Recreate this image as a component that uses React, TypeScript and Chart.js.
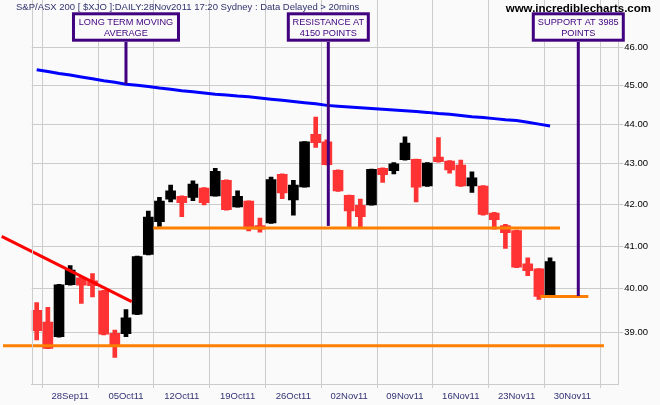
import React, { useEffect, useRef } from 'react';
import { Chart, registerables } from 'chart.js';

Chart.register(...registerables);

// ---- data ----
const dates = [
  '23Sep11', '26Sep11', '27Sep11', '28Sep11', '29Sep11', '30Sep11',
  '03Oct11', '04Oct11', '05Oct11', '06Oct11', '07Oct11',
  '10Oct11', '11Oct11', '12Oct11', '13Oct11', '14Oct11',
  '17Oct11', '18Oct11', '19Oct11', '20Oct11', '21Oct11',
  '24Oct11', '25Oct11', '26Oct11', '27Oct11', '28Oct11',
  '31Oct11', '01Nov11', '02Nov11', '03Nov11', '04Nov11',
  '07Nov11', '08Nov11', '09Nov11', '10Nov11', '11Nov11',
  '14Nov11', '15Nov11', '16Nov11', '17Nov11', '18Nov11',
  '21Nov11', '22Nov11', '23Nov11', '24Nov11', '25Nov11',
  '28Nov11',
];

const opens = [
  39.50, 39.23, 38.90, 40.09, 40.25, 40.18, 39.95, 38.98, 38.97, 39.41,
  40.80, 41.58, 42.13, 42.20, 42.17, 42.40, 42.21, 42.59, 41.94, 42.08,
  41.49, 41.55, 42.74, 42.11, 42.43, 43.74, 43.55, 42.84, 42.22, 41.98,
  41.99, 42.89, 42.83, 43.10, 43.11, 42.45, 43.17, 43.07, 42.97, 42.45,
  42.45, 41.79, 41.49, 41.37, 40.58, 40.46, 39.82,
];
const highs = [
  39.68, 39.57, 40.10, 40.54, 40.26, 40.35, 39.96, 39.05, 39.52, 40.76,
  41.84, 42.17, 42.47, 42.21, 42.58, 42.41, 42.89, 42.60, 42.33, 42.09,
  41.67, 42.67, 42.75, 42.59, 43.56, 44.18, 43.60, 42.85, 42.23, 42.13,
  42.87, 42.90, 43.03, 43.68, 43.12, 43.03, 43.66, 43.08, 43.09, 42.80,
  42.46, 41.81, 41.52, 41.38, 40.72, 40.47, 40.72,
];
const lows = [
  38.83, 38.63, 38.89, 40.08, 39.66, 39.81, 38.94, 38.44, 38.90, 39.40,
  40.79, 41.47, 42.06, 41.70, 42.09, 41.99, 42.20, 41.86, 41.93, 41.36,
  41.33, 41.54, 42.14, 41.74, 42.42, 43.41, 42.97, 42.32, 41.43, 41.45,
  41.98, 42.54, 42.75, 43.09, 42.06, 42.44, 43.04, 42.77, 42.44, 42.29,
  41.74, 41.40, 40.94, 40.49, 40.30, 39.75, 39.81,
];
const closes = [
  39.04, 38.64, 40.09, 40.43, 40.08, 40.07, 38.96, 38.72, 39.33, 40.75,
  41.69, 42.08, 42.33, 42.04, 42.50, 42.04, 42.81, 41.87, 42.20, 41.41,
  41.40, 42.61, 42.28, 42.47, 43.55, 43.53, 42.98, 42.33, 41.84, 41.70,
  42.86, 42.73, 43.00, 43.52, 42.42, 43.02, 43.05, 42.85, 42.45, 42.65,
  41.76, 41.63, 41.32, 40.50, 40.42, 39.82, 40.63,
];
const movingAverage = [
  45.41, 45.36, 45.31, 45.27, 45.22, 45.17, 45.12, 45.08, 45.03, 45.00,
  44.97, 44.93, 44.90, 44.86, 44.83, 44.80, 44.77, 44.75, 44.72, 44.70,
  44.67, 44.64, 44.61, 44.58, 44.55, 44.52, 44.48, 44.46, 44.44, 44.42,
  44.40, 44.38, 44.36, 44.34, 44.32, 44.30, 44.27, 44.25, 44.22, 44.19,
  44.17, 44.14, 44.11, 44.09, 44.05, 44.00, 43.95,
];

// trend / support / resistance lines (x in trading-day index, y in index/100)
const downTrend = [{ x: -3.14, y: 41.23 }, { x: 8.51, y: 39.70 }];
const lowSupport = [{ x: -3.02, y: 38.70 }, { x: 50.83, y: 38.70 }];
const resistance = [{ x: 10.45, y: 41.43 }, { x: 46.89, y: 41.43 }];
const support = [{ x: 45.11, y: 39.82 }, { x: 49.43, y: 39.82 }];

const xTickIndex = [3, 8, 13, 18, 23, 28, 33, 38, 43, 48];
const xTickLabels = [
  '28Sep11', '05Oct11', '12Oct11', '19Oct11', '26Oct11',
  '02Nov11', '09Nov11', '16Nov11', '23Nov11', '30Nov11',
];
const yTicks = [39, 40, 41, 42, 43, 44, 45, 46];

const noteLines = [
  ['LONG TERM MOVING', 'AVERAGE'],
  ['RESISTANCE AT', '4150 POINTS'],
  ['SUPPORT AT 3985', 'POINTS'],
];
const noteIndex = [8.0, 26.13, 48.53];
const noteTarget = [45.03, 41.48, 39.83];

const titleText = 'S&P/ASX 200 [ $XJO ]:DAILY:28Nov2011 17:20 Sydney : Data Delayed > 20mins';
const siteText = 'www.incrediblecharts.com';

// ---- styles ----
const RED = '#ff3333';
const BLACK = '#000000';
const ORANGE = '#ff8000';
const BLUE = '#0000ff';
const PURPLE = '#400080';
const GRID = '#cccccc';
const BG = '#fafafa';
const FONT = '"Liberation Sans", Arial, sans-serif';
const noteBoxWidth = [108, 83, 93];

const decorPlugin = {
  id: 'decor',
  beforeDraw(chart: any) {
    const ctx = chart.ctx;
    ctx.save();
    ctx.fillStyle = BG;
    ctx.fillRect(0, 0, chart.width, chart.height);
    ctx.restore();
  },
  afterDraw(chart: any) {
    const ctx = chart.ctx;
    const area = chart.chartArea;
    const xs = chart.scales.x;
    const ys = chart.scales.y;
    ctx.save();
    // left border
    ctx.strokeStyle = GRID;
    ctx.lineWidth = 1;
    ctx.beginPath();
    const lx = Math.round(area.left) + 0.5;
    ctx.moveTo(lx, area.top);
    ctx.lineTo(lx, area.bottom);
    ctx.stroke();

    // title
    ctx.font = `9.5px ${FONT}`;
    ctx.fillStyle = '#333370';
    ctx.textAlign = 'left';
    ctx.textBaseline = 'alphabetic';
    ctx.fillText(titleText, 16, 10);
    ctx.font = `bold 11.5px ${FONT}`;
    ctx.fillStyle = '#000000';
    ctx.textAlign = 'right';
    ctx.fillText(siteText, 651, 11.5);

    // notes
    const boxTop = 12.3;
    const boxBottom = 41.7;
    for (let i = 0; i < noteLines.length; i++) {
      const cx = xs.getPixelForValue(noteIndex[i]);
      const ty = ys.getPixelForValue(noteTarget[i]);
      ctx.strokeStyle = PURPLE;
      ctx.lineWidth = 3;
      ctx.beginPath();
      ctx.moveTo(cx, boxBottom);
      ctx.lineTo(cx, ty);
      ctx.stroke();
      const w = noteBoxWidth[i];
      ctx.fillStyle = BG;
      ctx.fillRect(cx - w / 2, boxTop, w, boxBottom - boxTop);
      ctx.strokeRect(cx - w / 2 + 1.5, boxTop + 1.5, w - 3, boxBottom - boxTop - 3);
      ctx.fillStyle = PURPLE;
      ctx.font = `9.2px ${FONT}`;
      ctx.textAlign = 'center';
      ctx.fillText(noteLines[i][0], cx, 24.5);
      ctx.fillText(noteLines[i][1], cx, 35.5);
    }
    ctx.restore();
  },
};

export default function App() {
  const ref = useRef<HTMLCanvasElement | null>(null);

  useEffect(() => {
    document.body.style.margin = '0';
    if (!ref.current) return;
    const colors = opens.map((o, i) => (closes[i] >= o ? BLACK : RED));
    const wickData = dates.map((_, i) => ({ x: i, y: [lows[i], highs[i]] }));
    const bodyData = dates.map((_, i) => ({ x: i, y: [opens[i], closes[i]] }));
    const maData = movingAverage.map((v, i) => ({ x: i, y: v }));

    const lineDs = (data: any, color: string) => ({
      type: 'line' as const,
      data,
      borderColor: color,
      borderWidth: 3,
      pointRadius: 0,
      tension: 0,
      clip: false as any,
    });

    const chart = new Chart(ref.current, {
      type: 'bar',
      data: {
        datasets: [
          lineDs(resistance, ORANGE),
          lineDs(support, ORANGE),
          lineDs(lowSupport, ORANGE),
          lineDs(maData, BLUE),
          lineDs(downTrend, '#ff0000'),
          {
            type: 'bar',
            data: bodyData as any,
            backgroundColor: colors,
            barThickness: 10,
            grouped: false,
            borderWidth: 0,
          } as any,
          {
            type: 'bar',
            data: wickData as any,
            backgroundColor: colors,
            barThickness: 4,
            grouped: false,
            borderWidth: 0,
          } as any,
        ],
      },
      options: {
        animation: false,
        responsive: false,
        events: [],
        layout: { padding: { left: 31.7, top: 0, right: 0, bottom: 0 } },
        plugins: { legend: { display: false }, tooltip: { enabled: false } },
        scales: {
          x: {
            type: 'linear',
            min: -0.448,
            max: 52.115,
            offset: false,
            afterBuildTicks: (scale: any) => {
              scale.ticks = xTickIndex.map((v) => ({ value: v }));
            },
            afterFit: (scale: any) => {
              scale.height = 21;
              scale.paddingLeft = 0;
              scale.paddingRight = 0;
            },
            grid: { color: GRID, lineWidth: 1, tickLength: 4, drawTicks: true },
            border: { display: true, color: GRID },
            ticks: {
              autoSkip: false,
              maxRotation: 0,
              padding: 3,
              color: '#333377',
              font: { family: FONT, size: 9.5 },
              callback: (_v: any, i: number) => xTickLabels[i],
            },
          },
          y: {
            type: 'logarithmic',
            position: 'right',
            min: 37.85,
            max: 47.28,
            afterBuildTicks: (scale: any) => {
              scale.ticks = yTicks.map((v) => ({ value: v }));
            },
            afterFit: (scale: any) => {
              scale.width = 41.7;
              scale.paddingTop = 0;
              scale.paddingBottom = 0;
            },
            grid: { color: GRID, lineWidth: 1, tickLength: 5, drawTicks: true },
            border: { display: true, color: GRID },
            ticks: {
              padding: 1,
              color: '#000000',
              font: { family: FONT, size: 9.5 },
              callback: (v: any) => Number(v).toFixed(2),
            },
          },
        },
      },
      plugins: [decorPlugin],
    });
    return () => chart.destroy();
  }, []);

  return (
    <div style={{ width: 660, height: 405 }}>
      <canvas ref={ref} width={660} height={405} style={{ display: 'block' }} />
    </div>
  );
}
